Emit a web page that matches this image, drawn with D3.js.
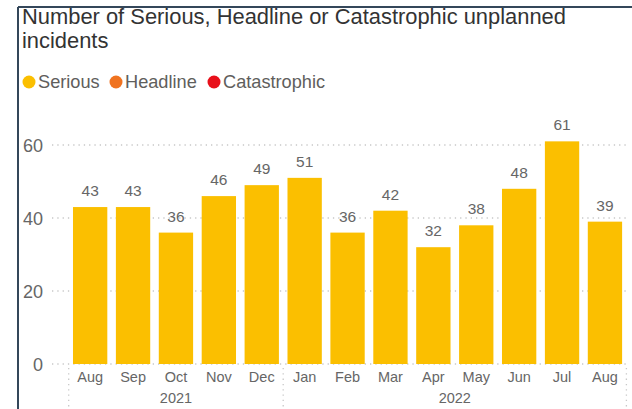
<!DOCTYPE html>
<html>
<head>
<meta charset="UTF-8">
<title>Unplanned incidents</title>
<style>
    body { margin: 0; background: #fff; }
    svg { display: block; font-family: "Liberation Sans", Arial, sans-serif; }
    .title { font-size: 21.9px; fill: #333; }
    .legend text { font-size: 18.2px; fill: #605e5c; }
    .y-axis text { font-size: 18px; fill: #666; text-anchor: end; }
    .grid line { stroke: #c8c8c8; stroke-width: 1.3; stroke-dasharray: 1.3 4; }
    .x-axis text { font-size: 14.5px; fill: #666; text-anchor: middle; }
    .sep { stroke: #c8c8c8; stroke-width: 1.3; stroke-dasharray: 1.3 4; }
    .label { font-size: 15.5px; fill: #666; text-anchor: middle; }
</style>
</head>
<body>
<div id="chart"></div>
<script src="https://cdn.jsdelivr.net/npm/d3@7"></script>
<script>
    // months shown on the axis
    const months = ['Aug', 'Sep', 'Oct', 'Nov', 'Dec', 'Jan', 'Feb', 'Mar', 'Apr', 'May', 'Jun', 'Jul', 'Aug'];
    // year of each month
    const years = ['2021', '2021', '2021', '2021', '2021', '2022', '2022', '2022', '2022', '2022', '2022', '2022', '2022'];
    // serious incidents per month
    const serious = [43, 43, 36, 46, 49, 51, 36, 42, 32, 38, 48, 61, 39];
    const yTicks = [0, 20, 40, 60];
    const legendItems = ['Serious', 'Headline', 'Catastrophic'];
    const legendColors = ['#fbbf00', '#f07320', '#e8101a'];

    const W = 632, H = 409;
    const svg = d3.select('#chart').append('svg')
        .attr('width', W)
        .attr('height', H);

    // frame lines top and left
    svg.append('line').attr('x1', 18).attr('x2', W).attr('y1', 7).attr('y2', 7)
        .attr('stroke', '#34475a').attr('stroke-width', 2);
    svg.append('line').attr('x1', 18).attr('x2', 18).attr('y1', 7).attr('y2', H)
        .attr('stroke', '#34475a').attr('stroke-width', 2);

    svg.append('text').attr('class', 'title').attr('x', 22).attr('y', 24)
        .text('Number of Serious, Headline or Catastrophic unplanned');
    svg.append('text').attr('class', 'title').attr('x', 22).attr('y', 48)
        .text('incidents');

    // legend
    const legendX = [29, 116, 214];
    const legend = svg.append('g').attr('class', 'legend');
    legendItems.forEach((name, i) => {
        legend.append('circle')
            .attr('cx', legendX[i]).attr('cy', 82).attr('r', 6.5)
            .attr('fill', legendColors[i]);
        legend.append('text')
            .attr('x', legendX[i] + 9).attr('y', 88)
            .text(name);
    });

    const x = d3.scaleBand()
        .domain(d3.range(months.length))
        .range([68.7, 626.4])
        .paddingInner(0.2)
        .paddingOuter(0.1);

    const y = d3.scaleLinear()
        .domain([0, 60])
        .range([364, 145]);

    // gridlines
    svg.append('g').attr('class', 'grid')
        .selectAll('line')
        .data(yTicks)
        .enter()
        .append('line')
        .attr('x1', 52).attr('x2', 626)
        .attr('y1', d => y(d)).attr('y2', d => y(d));

    const yAxis = d3.axisLeft(y).tickValues(yTicks).tickSize(0).tickPadding(0);
    svg.append('g')
        .attr('class', 'y-axis')
        .attr('transform', 'translate(43,0)')
        .call(yAxis)
        .call(g => g.select('.domain').remove())
        .call(g => g.selectAll('text').attr('dy', '0.35em'));

    // bars
    svg.append('g')
        .selectAll('rect')
        .data(serious)
        .enter()
        .append('rect')
        .attr('x', (d, i) => x(i))
        .attr('y', d => y(d))
        .attr('width', x.bandwidth())
        .attr('height', d => y(0) - y(d))
        .attr('fill', legendColors[0]);

    // data labels
    svg.append('g')
        .selectAll('text')
        .data(serious)
        .enter()
        .append('text')
        .attr('class', 'label')
        .attr('x', (d, i) => x(i) + x.bandwidth() / 2)
        .attr('y', d => y(d) - 11)
        .text(d => d);

    // month axis
    const xAxis = d3.axisBottom(x).tickSize(0).tickPadding(0).tickFormat(i => months[i]);
    svg.append('g')
        .attr('class', 'x-axis')
        .attr('transform', 'translate(0,' + 372 + ')')
        .call(xAxis)
        .call(g => g.select('.domain').remove());

    // year groups
    const groups = d3.groups(d3.range(years.length), i => years[i]);
    const half = x.step() * x.paddingInner() / 2;
    const bounds = groups.map(([yr, idx]) => ({
        yr: yr,
        x0: idx[0] === 0 ? x.range()[0] : x(idx[0]) - half,
        x1: idx[idx.length - 1] === years.length - 1 ? x.range()[1] : x(idx[idx.length - 1]) + x.bandwidth() + half
    }));

    const sepX = [bounds[0].x0].concat(bounds.map(b => b.x1));
    svg.append('g')
        .selectAll('line')
        .data(sepX)
        .enter()
        .append('line')
        .attr('class', 'sep')
        .attr('x1', d => d).attr('x2', d => d)
        .attr('y1', 368).attr('y2', H);

    svg.append('g')
        .attr('class', 'x-axis')
        .selectAll('text')
        .data(bounds)
        .enter()
        .append('text')
        .attr('x', d => (d.x0 + d.x1) / 2)
        .attr('y', 403)
        .text(d => d.yr);
</script>
</body>
</html>
